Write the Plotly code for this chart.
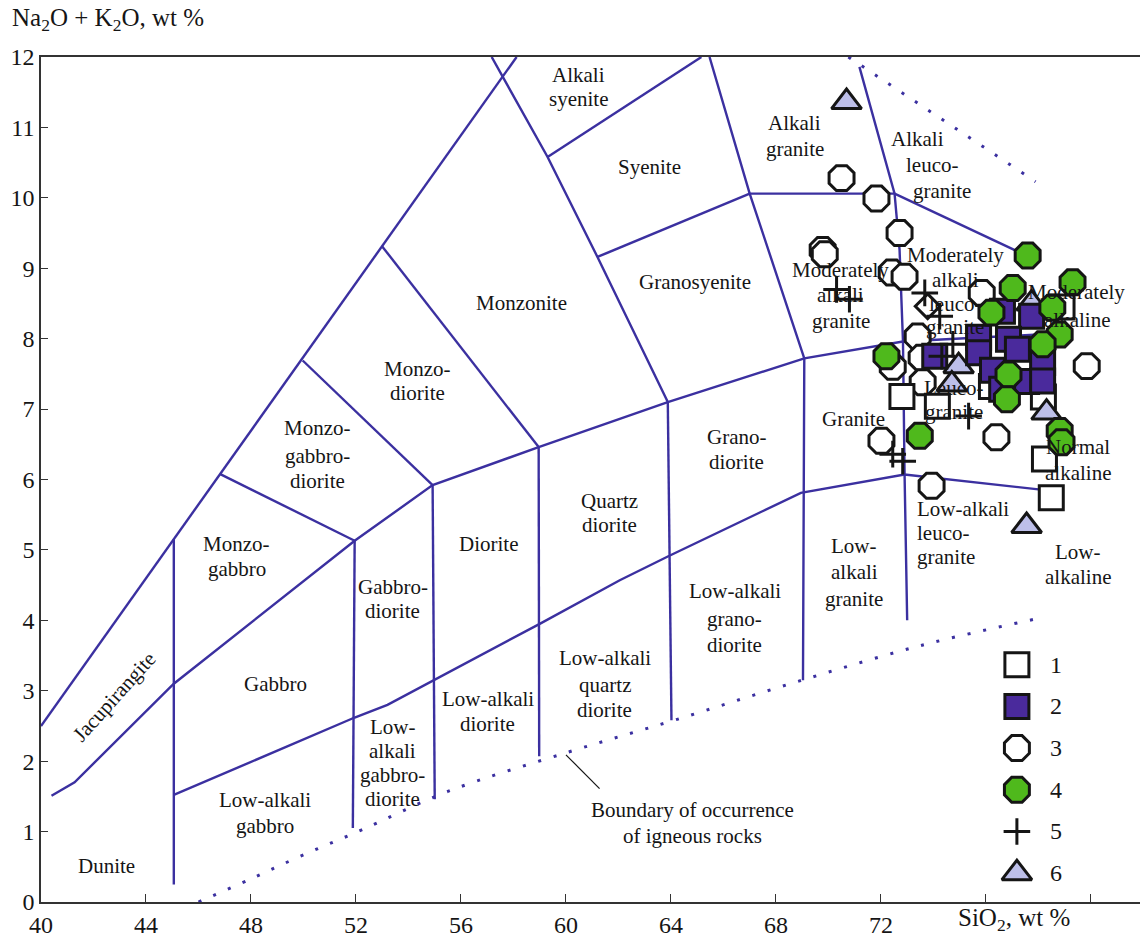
import plotly.graph_objects as go

# ---------------- field boundaries, (SiO2, Na2O+K2O) in wt % ----------------
alkaline_edge_x = [40.00, 58.12]
alkaline_edge_y = [2.50, 12.00]

normal_top_x = [40.40, 41.28, 45.06, 51.95, 54.92, 58.96, 63.88, 69.08, 72.84, 78.00]
normal_top_y = [1.51, 1.70, 3.10, 5.13, 5.92, 6.46, 7.10, 7.72, 7.96, 8.06]

low_alkali_top_x = [45.06, 51.95, 53.20, 54.92, 59.00, 62.05, 63.90, 68.95, 72.90, 78.00]
low_alkali_top_y = [1.52, 2.62, 2.80, 3.14, 3.95, 4.57, 4.91, 5.81, 6.07, 5.86]

sio2_45_x = [45.06, 45.06]
sio2_45_y = [5.15, 0.25]
sio2_52_x = [51.95, 51.88]
sio2_52_y = [5.13, 1.05]
sio2_55_x = [54.92, 55.00]
sio2_55_y = [5.92, 1.46]
sio2_59_x = [58.96, 58.98]
sio2_59_y = [6.46, 2.07]
sio2_64_x = [63.88, 64.02]
sio2_64_y = [7.10, 2.58]
sio2_69_x = [65.47, 67.00, 69.08, 69.03]
sio2_69_y = [12.00, 10.06, 7.72, 3.15]
sio2_73_x = [71.18, 72.52, 72.71, 72.84, 72.90, 73.00]
sio2_73_y = [11.86, 10.06, 9.26, 7.96, 6.08, 4.00]

syenite_edge_x = [57.17, 59.30, 61.20, 63.88]
syenite_edge_y = [12.00, 10.58, 9.16, 7.10]
monzonite_edge_x = [53.00, 58.96]
monzonite_edge_y = [9.31, 6.46]
monzodiorite_edge_x = [49.97, 54.92]
monzodiorite_edge_y = [7.69, 5.92]
monzogabbro_edge_x = [46.81, 51.95]
monzogabbro_edge_y = [6.08, 5.13]
alkali_syenite_edge_x = [59.30, 65.16]
alkali_syenite_edge_y = [10.58, 12.00]
granosyenite_edge_x = [61.20, 67.00]
granosyenite_edge_y = [9.16, 10.06]
alkali_granite_edge_x = [67.00, 72.52]
alkali_granite_edge_y = [10.06, 10.06]
alkali_leuco_edge_x = [72.52, 78.00]
alkali_leuco_edge_y = [10.06, 9.10]

# dotted limits of igneous rock compositions
igneous_low_x = [46.0, 48.0, 50.0, 52.2, 55.5, 60.1, 64.2, 68.9, 73.6, 77.9]
igneous_low_y = [0.00, 0.33, 0.67, 1.02, 1.57, 2.13, 2.59, 3.14, 3.65, 4.02]
igneous_high_x = [70.76, 77.89]
igneous_high_y = [12.00, 10.23]

pointer_x = [60.00, 61.28]
pointer_y = [2.09, 1.61]

# ---------------- samples ----------------
s1_x = [72.80, 74.15, 76.21, 78.19, 78.23, 78.49, 78.90]
s1_y = [7.18, 7.04, 7.32, 7.17, 6.29, 5.74, 8.45]
s1_diamond_x = [73.78]
s1_diamond_y = [8.46]

s2_x = [76.63, 77.74, 75.72, 76.86, 75.72, 77.20, 76.25, 78.16, 76.60, 77.55, 74.05, 78.16]
s2_y = [8.39, 8.32, 8.02, 7.99, 7.80, 7.85, 7.55, 7.66, 7.28, 7.39, 7.75, 7.40]

s3_x = [70.50, 71.83, 72.71, 69.78, 69.86, 72.41, 72.90, 75.84, 73.40, 73.55,
        72.45, 73.59, 76.25, 72.02, 76.40, 73.93, 79.84]
s3_y = [10.28, 9.99, 9.50, 9.26, 9.20, 8.94, 8.88, 8.65, 8.03, 7.73,
        7.60, 7.38, 7.38, 6.55, 6.60, 5.91, 7.61]

s4_x = [77.59, 77.02, 79.30, 76.21, 78.53, 78.81, 78.16, 72.21, 76.86, 76.80, 73.48, 78.81, 78.88]
s4_y = [9.18, 8.72, 8.80, 8.37, 8.44, 8.06, 7.92, 7.75, 7.49, 7.14, 6.62, 6.69, 6.53]

s5_x = [70.31, 70.80, 73.67, 74.24, 74.32, 74.74, 75.34, 72.45, 72.83]
s5_y = [8.70, 8.56, 8.65, 8.32, 7.75, 7.92, 6.90, 6.36, 6.26]

s6_x = [70.69, 77.55, 78.31, 74.96, 74.70, 77.74]
s6_y = [11.36, 5.34, 6.95, 7.61, 7.35, 8.50]

series_names = ["1", "2", "3", "4", "5", "6"]

# ---------------- field names: (x, y, text, anchor) ----------------
field_labels = [
    (60.48, 11.742, "Alkali", "center"), (60.48, 11.402, "syenite", "center"),
    (63.19, 10.439, "Syenite", "center"),
    (68.71, 11.062, "Alkali", "center"), (68.71, 10.694, "granite", "center"),
    (73.40, 10.836, "Alkali", "center"), (73.93, 10.467, "leuco-", "center"),
    (74.31, 10.099, "granite", "center"),
    (64.90, 8.810, "Granosyenite", "center"),
    (58.31, 8.513, "Monzonite", "center"),
    (54.35, 7.564, "Monzo-", "center"), (54.35, 7.224, "diorite", "center"),
    (50.54, 6.728, "Monzo-", "center"), (50.54, 6.331, "gabbro-", "center"),
    (50.54, 5.977, "diorite", "center"),
    (47.46, 5.085, "Monzo-", "center"), (47.46, 4.731, "gabbro", "center"),
    (48.94, 3.102, "Gabbro", "center"),
    (53.40, 4.476, "Gabbro-", "center"), (53.40, 4.136, "diorite", "center"),
    (57.06, 5.085, "Diorite", "center"),
    (61.67, 5.694, "Quartz", "center"), (61.67, 5.354, "diorite", "center"),
    (66.50, 6.601, "Grano-", "center"), (66.50, 6.246, "diorite", "center"),
    (70.96, 6.856, "Granite", "center"),
    (70.46, 8.980, "Moderately", "center"), (70.46, 8.626, "alkali", "center"),
    (70.46, 8.258, "granite", "center"),
    (74.84, 9.193, "Moderately", "center"), (74.84, 8.839, "alkali", "center"),
    (74.84, 8.499, "leuco-", "center"), (74.84, 8.159, "granite", "center"),
    (79.46, 8.669, "Moderately", "center"), (79.46, 8.272, "alkaline", "center"),
    (74.77, 7.294, "Leuco-", "center"), (74.77, 6.955, "granite", "center"),
    (79.50, 6.459, "Normal", "center"), (79.50, 6.091, "alkaline", "center"),
    (73.28, 5.580, "Low-alkali", "left"), (73.28, 5.240, "leuco-", "left"),
    (73.28, 4.900, "granite", "left"),
    (79.50, 4.972, "Low-", "center"), (79.50, 4.618, "alkaline", "center"),
    (70.99, 5.057, "Low-", "center"), (70.99, 4.688, "alkali", "center"),
    (70.99, 4.306, "granite", "center"),
    (66.43, 4.419, "Low-alkali", "center"), (66.43, 4.023, "grano-", "center"),
    (66.43, 3.654, "diorite", "center"),
    (61.48, 3.470, "Low-alkali", "center"), (61.48, 3.088, "quartz", "center"),
    (61.48, 2.720, "diorite", "center"),
    (57.02, 2.890, "Low-alkali", "center"), (57.02, 2.521, "diorite", "center"),
    (53.40, 2.480, "Low-", "center"), (53.40, 2.140, "alkali", "center"),
    (53.40, 1.800, "gabbro-", "center"), (53.40, 1.460, "diorite", "center"),
    (48.52, 1.445, "Low-alkali", "center"), (48.52, 1.076, "gabbro", "center"),
    (42.50, 0.510, "Dunite", "center"),
    (64.83, 1.303, "Boundary of occurrence", "center"),
    (64.83, 0.935, "of igneous rocks", "center"),
]

# ---------------- styling ----------------
SERIF = "Liberation Serif"
BLUE = "#3b30a0"
INK = "#151515"
AXIS = "#333333"

fig = go.Figure()

solid_lines = [
    (alkaline_edge_x, alkaline_edge_y), (normal_top_x, normal_top_y),
    (low_alkali_top_x, low_alkali_top_y),
    (sio2_45_x, sio2_45_y), (sio2_52_x, sio2_52_y), (sio2_55_x, sio2_55_y),
    (sio2_59_x, sio2_59_y), (sio2_64_x, sio2_64_y), (sio2_69_x, sio2_69_y),
    (sio2_73_x, sio2_73_y),
    (syenite_edge_x, syenite_edge_y), (monzonite_edge_x, monzonite_edge_y),
    (monzodiorite_edge_x, monzodiorite_edge_y), (monzogabbro_edge_x, monzogabbro_edge_y),
    (alkali_syenite_edge_x, alkali_syenite_edge_y), (granosyenite_edge_x, granosyenite_edge_y),
    (alkali_granite_edge_x, alkali_granite_edge_y), (alkali_leuco_edge_x, alkali_leuco_edge_y),
]
for xs, ys in solid_lines:
    fig.add_trace(go.Scatter(x=xs, y=ys, mode="lines", line=dict(color=BLUE, width=2.4),
                             hoverinfo="skip", showlegend=False))

for xs, ys in [(igneous_low_x, igneous_low_y), (igneous_high_x, igneous_high_y)]:
    fig.add_trace(go.Scatter(x=xs, y=ys, mode="lines", line_shape="spline",
                             line=dict(color=BLUE, width=3, dash="3px,13px"),
                             hoverinfo="skip", showlegend=False))

fig.add_trace(go.Scatter(x=pointer_x, y=pointer_y, mode="lines",
                         line=dict(color=INK, width=1.2), hoverinfo="skip", showlegend=False))

markers = {
    "1": dict(symbol="square", size=24, color="white", line=dict(color=INK, width=3)),
    "2": dict(symbol="square", size=24, color="#4a2a9c", line=dict(color=INK, width=3)),
    "3": dict(symbol="octagon", size=27, color="white", line=dict(color=INK, width=3)),
    "4": dict(symbol="octagon", size=27, color="#4fb91c", line=dict(color=INK, width=3)),
    "5": dict(symbol="cross-thin", size=19, color=INK, line=dict(color=INK, width=3)),
    "6": dict(symbol="triangle-up", size=26, color="#bdbfe9", line=dict(color=INK, width=3)),
}
series_xy = {"1": (s1_x, s1_y), "2": (s2_x, s2_y), "3": (s3_x, s3_y),
             "4": (s4_x, s4_y), "5": (s5_x, s5_y), "6": (s6_x, s6_y)}

draw_order = ["3", "1", "6", "2", "4", "5"]
for name in draw_order:
    xs, ys = series_xy[name]
    if name == "1":
        fig.add_trace(go.Scatter(x=s1_diamond_x, y=s1_diamond_y, mode="markers",
                                 marker=dict(symbol="diamond", size=19, color="white",
                                             line=dict(color=INK, width=3)),
                                 showlegend=False, hoverinfo="skip"))
    fig.add_trace(go.Scatter(x=xs, y=ys, mode="markers", name=name, marker=markers[name],
                             showlegend=False))

# key in the lower-right corner
KEY_X, KEY_TEXT_X, KEY_Y0, KEY_STEP = 77.18, 78.38, 3.37, 0.592
for i, name in enumerate(series_names):
    ky = KEY_Y0 - i * KEY_STEP
    fig.add_trace(go.Scatter(x=[KEY_X], y=[ky], mode="markers", marker=markers[name],
                             showlegend=False, hoverinfo="skip"))
    fig.add_annotation(x=KEY_TEXT_X, y=ky, text=name, showarrow=False, xanchor="left",
                       yanchor="middle", font=dict(family=SERIF, size=24, color=INK))

for x, y, text, anchor in field_labels:
    fig.add_annotation(x=x, y=y, text=text, showarrow=False, xanchor=anchor, yanchor="middle",
                       font=dict(family=SERIF, size=21, color=INK))

fig.add_annotation(x=42.77, y=2.918, text="Jacupirangite", textangle=-48, showarrow=False,
                   xanchor="center", yanchor="middle", font=dict(family=SERIF, size=21, color=INK))

# axis titles
fig.add_annotation(xref="paper", yref="paper", x=-0.028, y=1.044, xanchor="left", yanchor="middle",
                   text="Na<sub>2</sub>O + K<sub>2</sub>O, wt %", showarrow=False,
                   font=dict(family=SERIF, size=25, color=INK))
fig.add_annotation(xref="paper", yref="paper", x=0.885, y=-0.021, xanchor="center", yanchor="middle",
                   text="SiO<sub>2</sub>, wt %", showarrow=False,
                   font=dict(family=SERIF, size=25, color=INK))

x_ticks = [40, 44, 48, 52, 56, 60, 64, 68, 72]
y_ticks = list(range(0, 13))

fig.update_layout(
    width=1140, height=938,
    margin=dict(l=41, r=0, t=57, b=34),
    paper_bgcolor="white", plot_bgcolor="white",
    showlegend=False,
    font=dict(family=SERIF, color=INK),
    xaxis=dict(range=[40, 81.87], tickvals=x_ticks,
               ticks="inside", ticklen=8, tickwidth=1.4, tickcolor=AXIS,
               minor=dict(tickvals=[76, 80], ticks="inside", ticklen=8, tickwidth=1.4,
                          tickcolor=AXIS, showgrid=False),
               showline=True, linecolor=AXIS, linewidth=1.6, mirror=True,
               showgrid=False, zeroline=False,
               tickfont=dict(family=SERIF, size=24, color=INK)),
    yaxis=dict(range=[0, 12], tickvals=y_ticks,
               ticks="inside", ticklen=7, tickwidth=1.4, tickcolor=AXIS,
               showline=True, linecolor=AXIS, linewidth=1.6, mirror=False,
               showgrid=False, zeroline=False,
               tickfont=dict(family=SERIF, size=24, color=INK)),
)

fig.write_html("out.html")
